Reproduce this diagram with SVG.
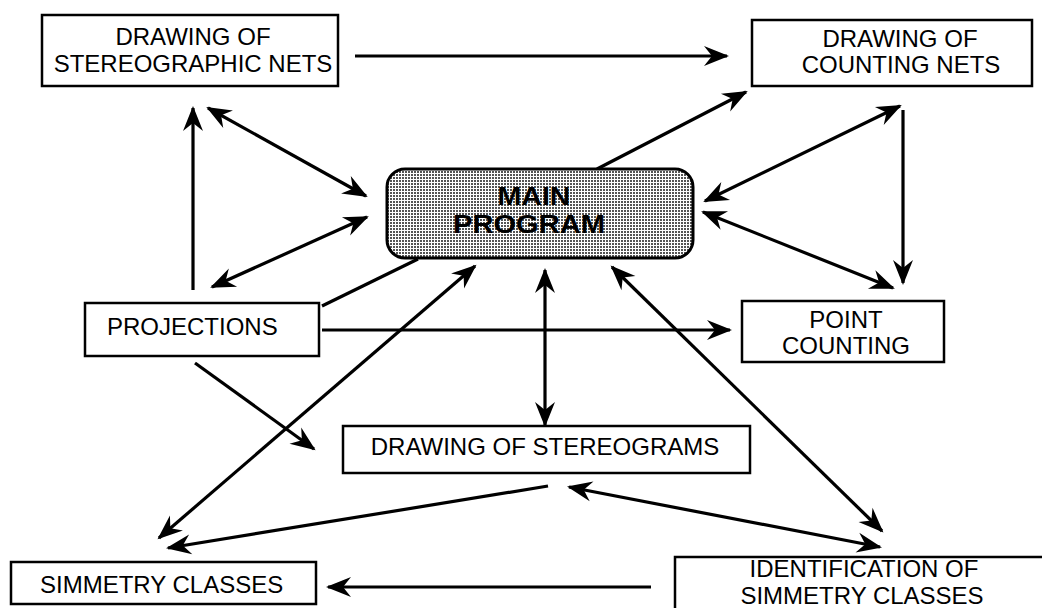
<svg xmlns="http://www.w3.org/2000/svg" width="1042" height="608" viewBox="0 0 1042 608">
<style>
.box{fill:#fff;stroke:#000;stroke-width:2.5}
.t{font-family:"Liberation Sans",Arial,Helvetica,sans-serif;font-size:24px;fill:#000}
.m{text-anchor:middle}
.b{font-weight:bold;font-size:26px}
.c{stroke:#000;stroke-width:3.2;fill:none}
.e{marker-end:url(#ah)}
.s{marker-start:url(#ah)}
</style>
<defs>
<marker id="ah" viewBox="-26 -11 29 22" refX="0" refY="0" markerWidth="29" markerHeight="22" markerUnits="userSpaceOnUse" orient="auto-start-reverse">
<path d="M2,0 L-23,-10 L-15,0 L-23,10 Z" fill="#000"/>
</marker>
<pattern id="dots" width="3" height="3" patternUnits="userSpaceOnUse">
<rect width="3" height="3" fill="#fff"/>
<rect width="2" height="2" fill="#555"/>
</pattern>
</defs>
<rect width="1042" height="608" fill="#fff"/>
<g id="connectors">
<path class="c e" d="M355,56 L727,56"/>
<path class="c e" d="M597,169 L746,92"/>
<path class="c e s" d="M900,106 L705,201"/>
<path class="c e" d="M903,110 L903,283"/>
<path class="c e s" d="M703,212 L893,288"/>
<path class="c e s" d="M208,108 L366,196"/>
<path class="c e" d="M193,290 L193,108"/>
<path class="c e s" d="M212,287 L367,217"/>
<path class="c" d="M418,259 L322,306"/>
<path class="c e" d="M322,330 L730,330"/>
<path class="c e" d="M195,363 L314,449"/>
<path class="c e s" d="M159,538 L475,266"/>
<path class="c e s" d="M545,270 L545,425"/>
<path class="c e s" d="M612,267 L882,531"/>
<path class="c e s" d="M569,487 L880,547"/>
<path class="c e" d="M548,486 L168,548"/>
<path class="c e" d="M651,587 L328,587"/>
</g>
<g id="stereographic-nets">
<rect class="box" x="42" y="15" width="296" height="71"/>
<text class="t m" x="193" y="45">DRAWING OF</text>
<text class="t m" x="193" y="72">STEREOGRAPHIC NETS</text>
</g>
<g id="counting-nets">
<rect class="box" x="752" y="20" width="280" height="66"/>
<text class="t m" x="900" y="47">DRAWING OF</text>
<text class="t m" x="901" y="73">COUNTING NETS</text>
</g>
<g id="main-program">
<rect x="387" y="169" width="306" height="89" rx="18" ry="18" fill="url(#dots)" stroke="#000" stroke-width="3"/>
<text class="t m b" x="534" y="205" textLength="73" lengthAdjust="spacingAndGlyphs">MAIN</text>
<text class="t m b" x="529" y="233" textLength="152" lengthAdjust="spacingAndGlyphs">PROGRAM</text>
</g>
<g id="projections">
<rect class="box" x="85" y="303" width="234" height="53"/>
<text class="t" x="107" y="335">PROJECTIONS</text>
</g>
<g id="point-counting">
<rect class="box" x="742" y="301" width="202" height="61"/>
<text class="t m" x="846" y="328">POINT</text>
<text class="t m" x="846" y="354">COUNTING</text>
</g>
<g id="drawing-stereograms">
<rect class="box" x="343" y="426" width="407" height="47"/>
<text class="t m" x="545" y="455">DRAWING OF STEREOGRAMS</text>
</g>
<g id="simmetry-classes">
<rect class="box" x="11" y="562" width="305" height="42"/>
<text class="t" x="40" y="593">SIMMETRY CLASSES</text>
</g>
<g id="identification">
<rect class="box" x="675" y="557" width="400" height="80"/>
<text class="t m" x="864" y="577">IDENTIFICATION OF</text>
<text class="t m" x="862" y="604">SIMMETRY CLASSES</text>
</g>
</svg>
